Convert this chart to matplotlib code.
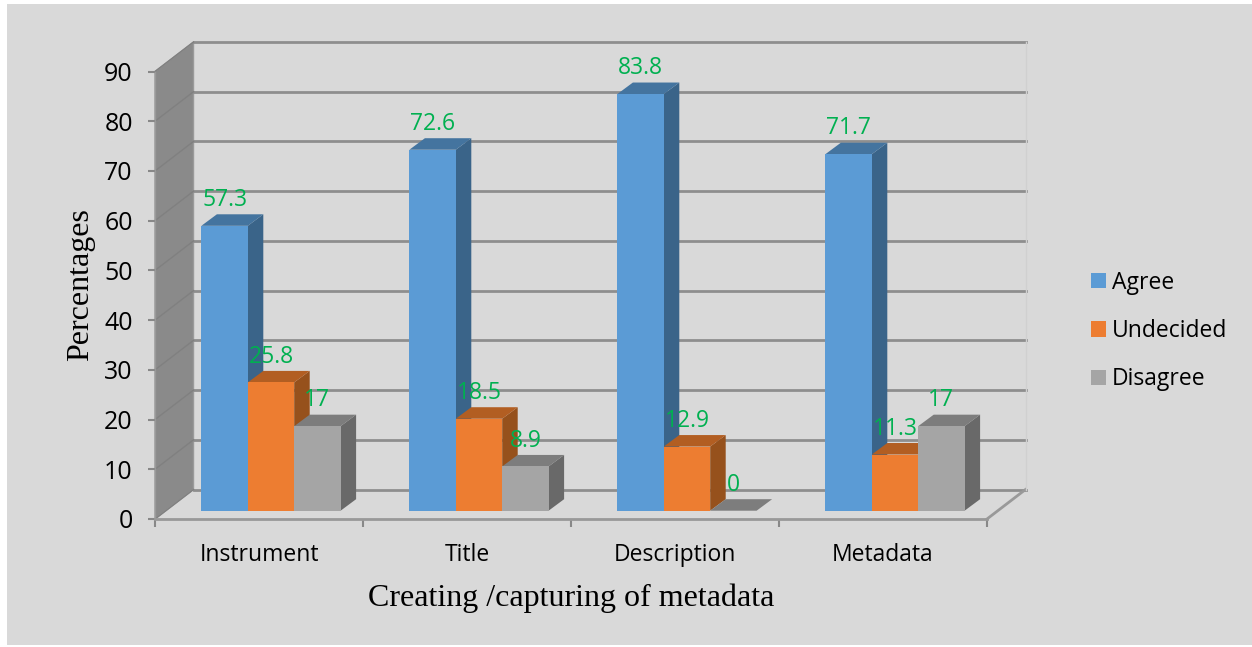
import matplotlib
matplotlib.use('Agg')
import numpy as np
import matplotlib.pyplot as plt
from matplotlib.patches import Polygon, Rectangle, Patch

plt.rcParams['font.family'] = ['Open Sans', 'DejaVu Sans']

# ── Data ───────────────────────────────────────────────────────────────────
categories = ['Instrument', 'Title', 'Description', 'Metadata']
agree = [57.3, 72.6, 83.8, 71.7]
undecided = [25.8, 18.5, 12.9, 11.3]
disagree = [17, 8.9, 0, 17]
y_ticks = [0, 10, 20, 30, 40, 50, 60, 70, 80, 90]

series = [('Agree', agree, '#5B9BD5', '#3A6489', '#44749F'),
          ('Undecided', undecided, '#ED7D31', '#96511C', '#B25E22'),
          ('Disagree', disagree, '#A5A5A5', '#696969', '#7D7D7D')]

W, H = 1252, 647
L, R, B, T = 155, 987, 519, 71.5     # front plane of the plot, pixels
PX_X = 4 / (R - L)                   # data units per pixel
PX_Y = 90 / (B - T)
WALL_X, WALL_Y = 38.5 * PX_X, 29.5 * PX_Y    # depth of the chart box
DEPTH_X, DEPTH_Y = 15.5 * PX_X, 11.5 * PX_Y  # depth of one bar
FLOOR_X, FLOOR_Y = 11 * PX_X, 8.3 * PX_Y     # where bars stand on the floor
BAR_W = 46.4 * PX_X
GROUP_START = 35.4 * PX_X
GRID = '#8E8E8E'
BG = '#D9D9D9'

fig = plt.figure(figsize=(W / 100, H / 100), dpi=100, facecolor='white')
fig.patches.append(Rectangle((7 / W, 2 / H), 1 - 7 / W, 641 / H, transform=fig.transFigure,
                             facecolor=BG, edgecolor='none', zorder=-1))
ax = fig.add_axes([L / W, 1 - B / H, (R - L) / W, (B - T) / H])
ax.patch.set_visible(False)
ax.set_xlim(0, 4)
ax.set_ylim(0, 90)

# ── Chart box: side wall, back wall grid, floor ────────────────────────────
ax.add_patch(Polygon([(0, 0), (0, 90), (WALL_X, 90 + WALL_Y), (WALL_X, WALL_Y)],
                     facecolor='#8A8A8A', edgecolor='#9A9A9A', lw=1, clip_on=False, zorder=1))
for t in y_ticks:
    ax.plot([WALL_X, 4 + WALL_X], [t + WALL_Y] * 2, color=GRID, lw=2, clip_on=False, zorder=1.5)
    ax.plot([0, WALL_X], [t, t + WALL_Y], color='#808080', lw=1, clip_on=False, zorder=1.5)
ax.plot([4, 4 + WALL_X], [0, WALL_Y], color='#999999', lw=2, clip_on=False, zorder=1.5)
ax.plot([4 + WALL_X] * 2, [WALL_Y, 90 + WALL_Y], color='#D0D0D0', lw=1, clip_on=False, zorder=1.5)

# ── Bars, drawn left to right so the nearer front faces cover side faces ───
z = 3
for c in range(len(categories)):
    for s, (name, values, front, side, top) in enumerate(series):
        v = values[c]
        x0 = c + GROUP_START + FLOOR_X + s * BAR_W
        x1 = x0 + BAR_W
        y0 = FLOOR_Y
        y1 = FLOOR_Y + v
        ax.add_patch(Polygon([(x1, y0), (x1 + DEPTH_X, y0 + DEPTH_Y),
                              (x1 + DEPTH_X, y1 + DEPTH_Y), (x1, y1)],
                             facecolor=side, edgecolor='none', clip_on=False, zorder=z))
        ax.add_patch(Polygon([(x0, y1), (x0 + DEPTH_X, y1 + DEPTH_Y),
                              (x1 + DEPTH_X, y1 + DEPTH_Y), (x1, y1)],
                             facecolor=top, edgecolor='none', clip_on=False, zorder=z))
        ax.bar(x0, v, BAR_W, bottom=y0, align='edge', color=front, clip_on=False, zorder=z + 0.5)
        ax.text((x0 + x1) / 2, y1 + 5.2, f'{v:g}', color='#00B050', fontsize=16.5,
                ha='center', va='center', zorder=20)
        z += 1

# ── Axes ───────────────────────────────────────────────────────────────────
for sp in ['top', 'right']:
    ax.spines[sp].set_visible(False)
ax.spines['left'].set_color('#999999')
ax.spines['bottom'].set_color('#999999')
ax.spines['left'].set_linewidth(1)
ax.spines['bottom'].set_linewidth(2)
ax.set_yticks(y_ticks)
ax.set_xticks(range(5))
ax.set_xticklabels([])
ax.set_xticks(np.arange(4) + 0.5, labels=categories, minor=True)
ax.tick_params(axis='y', length=5, width=1.5, color='#888888', labelsize=18, pad=11, labelcolor='black')
ax.tick_params(axis='x', which='major', length=6, width=1.5, color='#888888')
ax.tick_params(axis='x', which='minor', length=0, labelsize=16.5, pad=17, labelcolor='black')

fig.text(571 / W, 1 - 598.5 / H, 'Creating /capturing of metadata', family='Liberation Serif',
         fontsize=23, ha='center', va='center')
fig.text(81 / W, 1 - 285 / H, 'Percentages', family='Liberation Serif', fontsize=23,
         rotation=90, ha='center', va='center')

handles = [Patch(facecolor=s[2], label=s[0]) for s in series]
fig.legend(handles=handles, loc='center left', bbox_to_anchor=(1083 / W, 1 - 331 / H),
           frameon=False, fontsize=16.5, handlelength=0.655, handleheight=0.655,
           handletextpad=0.26, labelspacing=1.065, borderpad=0.35, borderaxespad=0)

fig.savefig('out.png', dpi=100, facecolor=fig.get_facecolor())
